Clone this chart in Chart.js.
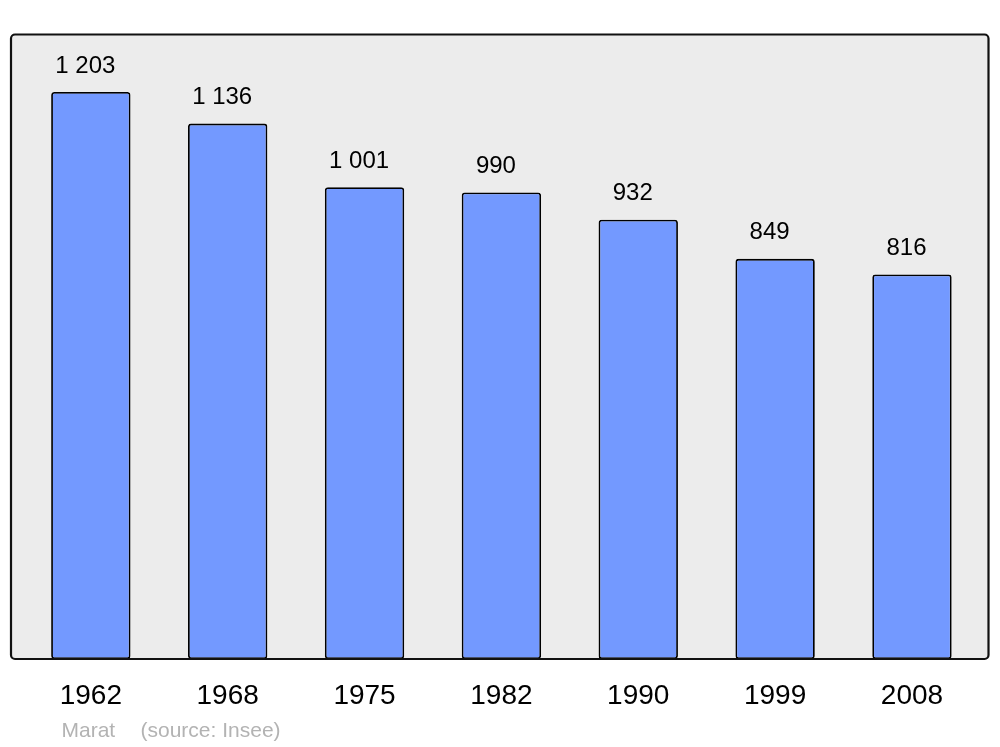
<!DOCTYPE html>
<html>
<head>
<meta charset="utf-8">
<script src="https://cdn.jsdelivr.net/npm/chart.js@4/dist/chart.umd.min.js"></script>
<style>
  html, body { margin: 0; padding: 0; background: #ffffff; }
  #wrap { width: 1000px; height: 747px; position: relative; }
</style>
</head>
<body>
<div id="wrap"><canvas id="c" width="1000" height="747"></canvas></div>
<script>
const years = ['1962', '1968', '1975', '1982', '1990', '1999', '2008'];
const population = [1203, 1136, 1001, 990, 932, 849, 816];
const valueLabels = ['1 203', '1 136', '1 001', '990', '932', '849', '816'];
const footerAuthor = 'Marat';
const footerSource = '(source: Insee)';

const FONT = '"Liberation Sans", Arial, sans-serif';

const framePlugin = {
  id: 'frame',
  beforeDatasetsDraw(chart) {
    const ctx = chart.ctx;
    ctx.save();
    ctx.beginPath();
    ctx.roundRect(11, 34.5, 977.5, 624.5, 4);
    ctx.fillStyle = '#ececec';
    ctx.fill();
    ctx.restore();
  },
  afterDatasetsDraw(chart) {
    const ctx = chart.ctx;
    ctx.save();
    ctx.beginPath();
    ctx.roundRect(11, 34.5, 977.5, 624.5, 4);
    ctx.lineWidth = 2.2;
    ctx.strokeStyle = '#111111';
    ctx.stroke();
    // value labels
    const meta = chart.getDatasetMeta(0);
    ctx.fillStyle = '#000000';
    ctx.font = '24px ' + FONT;
    ctx.textAlign = 'center';
    ctx.textBaseline = 'alphabetic';
    meta.data.forEach((bar, i) => {
      ctx.fillText(valueLabels[i], bar.x - 5.5, bar.y - 19.5);
    });
    // footer
    ctx.fillStyle = '#b3b3b3';
    ctx.font = '21px ' + FONT;
    ctx.textAlign = 'left';
    ctx.fillText(footerAuthor, 61.5, 737);
    ctx.fillText(footerSource, 140.5, 737);
    ctx.restore();
  }
};

new Chart(document.getElementById('c'), {
  type: 'bar',
  data: {
    labels: years,
    datasets: [{
      data: population,
      backgroundColor: '#7399ff',
      borderColor: '#000000',
      borderWidth: 1.8,
      borderRadius: 3,
      borderSkipped: false,
      categoryPercentage: 1,
      barPercentage: 0.58
    }]
  },
  options: {
    responsive: false,
    animation: false,
    devicePixelRatio: 1,
    layout: { padding: { top: 35, left: 22.4, right: 19.6, bottom: 0 } },
    plugins: { legend: { display: false }, tooltip: { enabled: false }, title: { display: false } },
    scales: {
      x: {
        grid: { display: false, drawTicks: false },
        border: { display: false },
        ticks: { color: '#000000', font: { family: FONT, size: 28 }, padding: 20.5, maxRotation: 0 },
        afterFit(scale) { scale.height = 88; }
      },
      y: {
        display: false,
        min: 0,
        max: 1324
      }
    }
  },
  plugins: [framePlugin]
});
</script>
</body>
</html>
